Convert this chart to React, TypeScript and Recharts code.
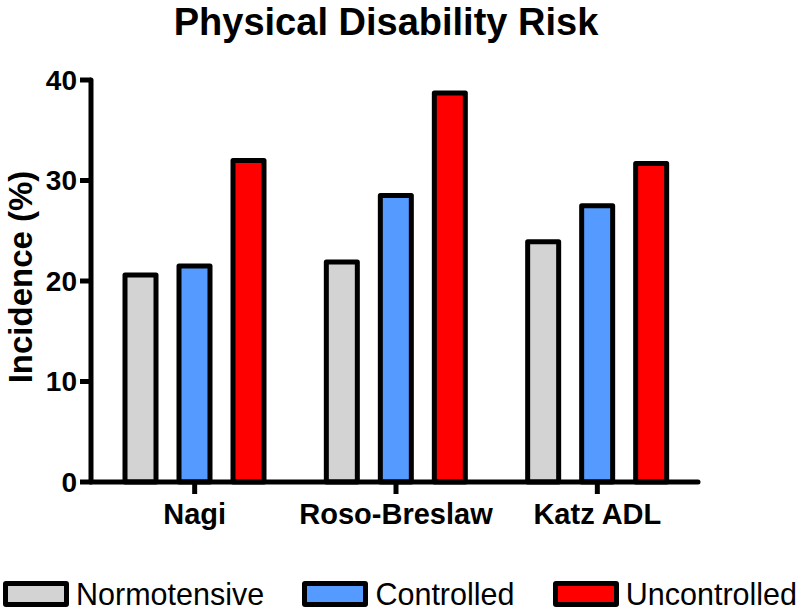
import { Bar, BarChart, Legend, XAxis, YAxis } from "recharts";

const measures = ["Nagi", "Roso-Breslaw", "Katz ADL"];
const normotensive = [20.6, 21.9, 23.9];
const controlled = [21.5, 28.5, 27.5];
const uncontrolled = [32.0, 38.7, 31.7];
const yTicks = [0, 10, 20, 30, 40];

const seriesList = [
  { key: "normotensive", name: "Normotensive", color: "#d3d3d3" },
  { key: "controlled", name: "Controlled", color: "#559bff" },
  { key: "uncontrolled", name: "Uncontrolled", color: "#ff0000" },
];

const font = "'Liberation Sans', Arial, Helvetica, sans-serif";

const data = measures.map((m, i) => ({
  measure: m,
  normotensive: normotensive[i],
  controlled: controlled[i],
  uncontrolled: uncontrolled[i],
}));

function LegendBoxes() {
  return (
    <div
      style={{
        display: "flex",
        justifyContent: "space-between",
        alignItems: "center",
        height: 30,
        fontFamily: font,
        fontSize: 30.5,
        lineHeight: "30px",
      }}
    >
      {seriesList.map((s) => (
        <div key={s.key} style={{ display: "flex", alignItems: "center" }}>
          <div
            style={{
              width: 56,
              height: 16,
              background: s.color,
              border: "5px solid #000",
              borderRadius: 3,
              marginRight: 7,
            }}
          />
          <span style={{ color: "#000" }}>{s.name}</span>
        </div>
      ))}
    </div>
  );
}

function AxisTitle(props: any) {
  const vb = props.viewBox || {};
  const cy = vb.y + vb.height / 2 - 4;
  const cx = 32;
  return (
    <text
      x={cx}
      y={cy}
      transform={`rotate(-90, ${cx}, ${cy})`}
      textAnchor="middle"
      fill="#000"
      fontSize={33}
      fontWeight="bold"
      fontFamily={font}
    >
      Incidence (%)
    </text>
  );
}

export default function App() {
  return (
    <div style={{ position: "absolute", left: 0, top: 0, width: 800, height: 611, background: "#fff" }}>
      <div
        style={{
          position: "absolute",
          left: 0,
          top: 0,
          width: 772,
          textAlign: "center",
          fontFamily: font,
          fontWeight: "bold",
          fontSize: 38,
          lineHeight: "44px",
          color: "#000",
        }}
      >
        Physical Disability Risk
      </div>
      <BarChart
        width={800}
        height={611}
        data={data}
        margin={{ top: 80, right: 102, bottom: 0, left: 0 }}
        barSize={31}
        barGap={23}
      >
        <XAxis
          dataKey="measure"
          height={129}
          padding={{ left: 3, right: 0 }}
          axisLine={{ stroke: "#000", strokeWidth: 5, strokeLinecap: "round" }}
          tickLine={{ stroke: "#000", strokeWidth: 5 }}
          tickSize={12}
          tickMargin={9}
          tick={{ fill: "#000", fontSize: 29, fontWeight: "bold", fontFamily: font }}
        />
        <YAxis
          domain={[0, 40]}
          ticks={yTicks}
          width={91}
          axisLine={{ stroke: "#000", strokeWidth: 5, strokeLinecap: "round" }}
          tickLine={{ stroke: "#000", strokeWidth: 5 }}
          tickSize={11}
          tickMargin={3}
          tick={{ fill: "#000", fontSize: 28, fontWeight: "bold", fontFamily: font }}
          label={<AxisTitle />}
        />
        <Legend
          verticalAlign="middle"
          wrapperStyle={{ position: "absolute", top: 579, left: 3, width: 794 }}
          content={() => <LegendBoxes />}
        />
        {seriesList.map((s) => (
          <Bar
            key={s.key}
            dataKey={s.key}
            name={s.name}
            fill={s.color}
            stroke="#000"
            strokeWidth={5}
            strokeLinejoin="round"
            isAnimationActive={false}
          />
        ))}
      </BarChart>
    </div>
  );
}
